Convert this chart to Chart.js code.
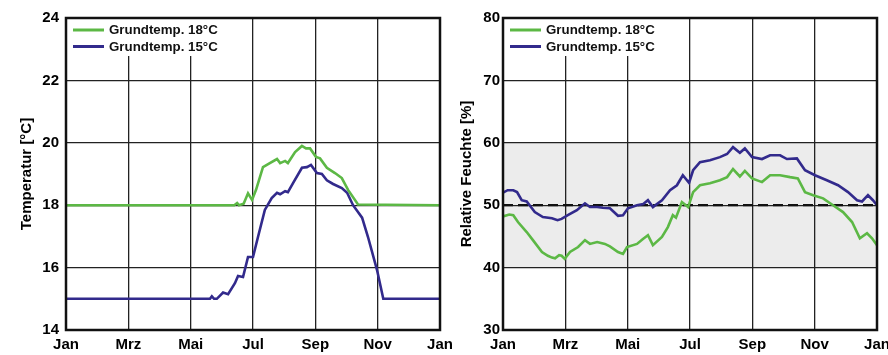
<!DOCTYPE html>
<html>
<head>
<meta charset="utf-8">
<script src="https://cdn.jsdelivr.net/npm/chart.js@4.4.1/dist/chart.umd.min.js"></script>
<style>
  body { margin: 0; background: #fff; width: 888px; height: 355px; overflow: hidden; position: relative; }
  canvas { position: absolute; top: 0; }
  #tempChart { left: 0; }
  #rhChart { left: 440px; }
</style>
</head>
<body>
<canvas id="tempChart" width="460" height="355"></canvas>
<canvas id="rhChart" width="448" height="355"></canvas>
<script>
// month labels, every 2nd month (x = months since 1 Jan)
var monthLabels = ['Jan', 'Mrz', 'Mai', 'Jul', 'Sep', 'Nov', 'Jan'];
var seriesNames = ['Grundtemp. 18°C', 'Grundtemp. 15°C'];
var GREEN = '#5cb845';
var BLUE = '#322a8c';

// Temperatur, Grundtemp. 18°C
var temp18Months = [0, 5.30, 5.40, 5.49, 5.55, 5.70, 5.84, 5.97, 6.10, 6.32, 6.54, 6.77, 6.87, 7.03, 7.12, 7.35, 7.57, 7.70, 7.83, 8.02, 8.15, 8.37, 8.63, 8.85, 9.05, 9.37, 12];
var temp18Values = [18, 18, 18.0, 18.07, 18.0, 18.05, 18.38, 18.17, 18.5, 19.22, 19.35, 19.48, 19.35, 19.42, 19.35, 19.7, 19.9, 19.82, 19.82, 19.55, 19.5, 19.2, 19.03, 18.87, 18.49, 18.02, 18];
// Temperatur, Grundtemp. 15°C
var temp15Months = [0, 4.62, 4.68, 4.75, 4.84, 5.04, 5.20, 5.42, 5.52, 5.68, 5.84, 6.00, 6.16, 6.38, 6.60, 6.77, 6.87, 7.03, 7.12, 7.28, 7.57, 7.73, 7.86, 8.05, 8.21, 8.37, 8.57, 8.85, 9.02, 9.21, 9.50, 9.69, 9.98, 10.18, 12];
var temp15Values = [15, 15, 15.08, 15.0, 15.0, 15.2, 15.15, 15.5, 15.73, 15.7, 16.34, 16.34, 16.98, 17.85, 18.23, 18.4, 18.35, 18.45, 18.42, 18.7, 19.2, 19.22, 19.29, 19.03, 19.0, 18.8, 18.68, 18.55, 18.4, 18.0, 17.6, 16.98, 15.92, 15.0, 15];

// Relative Feuchte, Grundtemp. 18°C
var rh18Months = [0, 0.20, 0.33, 0.48, 0.76, 0.96, 1.25, 1.44, 1.57, 1.67, 1.80, 1.88, 1.98, 2.15, 2.41, 2.63, 2.79, 3.02, 3.27, 3.43, 3.69, 3.85, 3.98, 4.30, 4.49, 4.65, 4.81, 5.10, 5.29, 5.45, 5.55, 5.74, 5.94, 6.10, 6.32, 6.64, 6.96, 7.19, 7.38, 7.60, 7.76, 7.99, 8.31, 8.57, 8.89, 9.21, 9.46, 9.69, 9.95, 10.27, 10.59, 10.91, 11.20, 11.45, 11.68, 11.84, 12];
var rh18Values = [48.2, 48.5, 48.4, 47.3, 45.7, 44.4, 42.5, 41.9, 41.6, 41.5, 42.0, 41.9, 41.4, 42.5, 43.3, 44.4, 43.8, 44.1, 43.8, 43.4, 42.5, 42.2, 43.3, 43.8, 44.6, 45.2, 43.6, 44.9, 46.5, 48.4, 48.0, 50.5, 49.7, 52.1, 53.2, 53.5, 54.0, 54.5, 55.8, 54.6, 55.5, 54.3, 53.7, 54.8, 54.8, 54.5, 54.3, 52.1, 51.6, 51.1, 50.0, 48.9, 47.3, 44.7, 45.5, 44.7, 43.6];
// Relative Feuchte, Grundtemp. 15°C
var rh15Months = [0, 0.15, 0.33, 0.45, 0.60, 0.76, 1.02, 1.28, 1.57, 1.75, 1.88, 2.08, 2.37, 2.63, 2.79, 3.02, 3.20, 3.43, 3.69, 3.85, 4.01, 4.30, 4.50, 4.65, 4.81, 5.10, 5.36, 5.58, 5.77, 5.97, 6.10, 6.32, 6.64, 6.96, 7.19, 7.38, 7.60, 7.76, 7.99, 8.31, 8.57, 8.89, 9.11, 9.43, 9.69, 10.01, 10.39, 10.75, 11.07, 11.36, 11.52, 11.71, 11.87, 12];
var rh15Values = [52.0, 52.4, 52.4, 52.1, 50.8, 50.6, 48.9, 48.1, 47.9, 47.6, 47.8, 48.4, 49.2, 50.3, 49.7, 49.7, 49.6, 49.5, 48.3, 48.4, 49.5, 50.0, 50.2, 50.8, 49.7, 50.8, 52.4, 53.2, 54.8, 53.6, 55.6, 56.9, 57.2, 57.7, 58.2, 59.3, 58.4, 59.1, 57.7, 57.4, 58.0, 58.0, 57.4, 57.5, 55.6, 54.8, 54.0, 53.2, 52.1, 50.8, 50.6, 51.6, 50.8, 50.0];

var tempTicks = { min: 14, max: 24, step: 2 };
var rhTicks = { min: 30, max: 80, step: 10 };
var rhBand = [40, 60];
var rhRef = 50;

function toPoints(xs, ys) {
	return xs.map(function(x, i) { return { x: x, y: ys[i] }; });
}

var fontTick = { family: '"Liberation Sans", Arial, sans-serif', size: 15, weight: 'bold' };

// grey comfort band under the grid
var bandPlugin = {
	id: 'band',
	beforeDraw: function(chart, args, opts) {
		if (!opts.range) return;
		var ctx = chart.ctx, a = chart.chartArea, y = chart.scales.y;
		var top = y.getPixelForValue(opts.range[1]);
		var bot = y.getPixelForValue(opts.range[0]);
		ctx.save();
		ctx.fillStyle = '#ececec';
		ctx.fillRect(a.left, top, a.right - a.left, bot - top);
		ctx.restore();
	}
};

// legend box in the upper left corner + dashed line + frame
var decoPlugin = {
	id: 'deco',
	beforeDatasetsDraw: function(chart, args, opts) {
		var ctx = chart.ctx, a = chart.chartArea;
		ctx.save();
		if (opts.refLine != null) {
			var yy = chart.scales.y.getPixelForValue(opts.refLine);
			ctx.strokeStyle = '#111';
			ctx.lineWidth = 2.2;
			ctx.setLineDash([10, 5]);
			ctx.beginPath();
			ctx.moveTo(a.left, yy);
			ctx.lineTo(a.right, yy);
			ctx.stroke();
			ctx.setLineDash([]);
		}
		ctx.fillStyle = '#fff';
		ctx.fillRect(a.left + 1, a.top + 1, 165, 37);
		var cols = [GREEN, BLUE];
		ctx.font = 'bold 13.3px "Liberation Sans", Arial, sans-serif';
		ctx.textBaseline = 'middle';
		seriesNames.forEach(function(name, i) {
			var ly = a.top + 12 + i * 16.5;
			ctx.strokeStyle = cols[i];
			ctx.lineWidth = 3;
			ctx.beginPath();
			ctx.moveTo(a.left + 7, ly);
			ctx.lineTo(a.left + 38, ly);
			ctx.stroke();
			ctx.fillStyle = '#111';
			ctx.fillText(name, a.left + 43, ly + 0.5);
		});
		ctx.restore();
	},
	afterDatasetsDraw: function(chart) {
		var ctx = chart.ctx, a = chart.chartArea;
		ctx.save();
		ctx.strokeStyle = '#111';
		ctx.lineWidth = 2.5;
		ctx.strokeRect(a.left, a.top, a.right - a.left, a.bottom - a.top);
		ctx.restore();
	}
};

function makeChart(id, opts) {
	return new Chart(document.getElementById(id), {
		type: 'line',
		data: {
			datasets: [
				{ label: seriesNames[0], data: opts.green, borderColor: GREEN, borderWidth: 2.6 },
				{ label: seriesNames[1], data: opts.blue, borderColor: BLUE, borderWidth: 2.6 }
			]
		},
		options: {
			responsive: false,
			animation: false,
			devicePixelRatio: 1,
			elements: { point: { radius: 0 }, line: { tension: 0 } },
			layout: { padding: { top: 18, right: opts.padRight, bottom: 0, left: 0 } },
			plugins: {
				legend: { display: false },
				tooltip: { enabled: false },
				band: { range: opts.band },
				deco: { refLine: opts.refLine }
			},
			scales: {
				x: {
					type: 'linear', min: 0, max: 12,
					grid: { color: '#222', lineWidth: 1.3, drawTicks: false },
					border: { display: false },
					ticks: {
						stepSize: 2, padding: 6, color: '#000', font: fontTick, maxRotation: 0,
						callback: function(v) { return monthLabels[v / 2]; }
					},
					afterFit: function(s) { s.height = 25; s.paddingLeft = 0; s.paddingRight = 0; }
				},
				y: {
					min: opts.ticks.min, max: opts.ticks.max,
					grid: { color: '#222', lineWidth: 1.3, drawTicks: false },
					border: { display: false },
					ticks: { stepSize: opts.ticks.step, padding: opts.tickPad, color: '#000', font: fontTick },
					title: {
						display: true, text: opts.title, color: '#000',
						font: { family: '"Liberation Sans", Arial, sans-serif', size: 15, weight: 'bold' },
						padding: { top: 18, bottom: 0 }
					},
					afterFit: function(s) { s.width = opts.axisWidth; s.paddingTop = 0; s.paddingBottom = 0; }
				}
			}
		},
		plugins: [bandPlugin, decoPlugin]
	});
}

makeChart('tempChart', {
	green: toPoints(temp18Months, temp18Values),
	blue: toPoints(temp15Months, temp15Values),
	ticks: tempTicks, title: 'Temperatur [°C]',
	axisWidth: 66, tickPad: 7, padRight: 20, band: null, refLine: null
});

makeChart('rhChart', {
	green: toPoints(rh18Months, rh18Values),
	blue: toPoints(rh15Months, rh15Values),
	ticks: rhTicks, title: 'Relative Feuchte [%]',
	axisWidth: 63, tickPad: 3, padRight: 11, band: rhBand, refLine: rhRef
});
</script>
</body>
</html>
